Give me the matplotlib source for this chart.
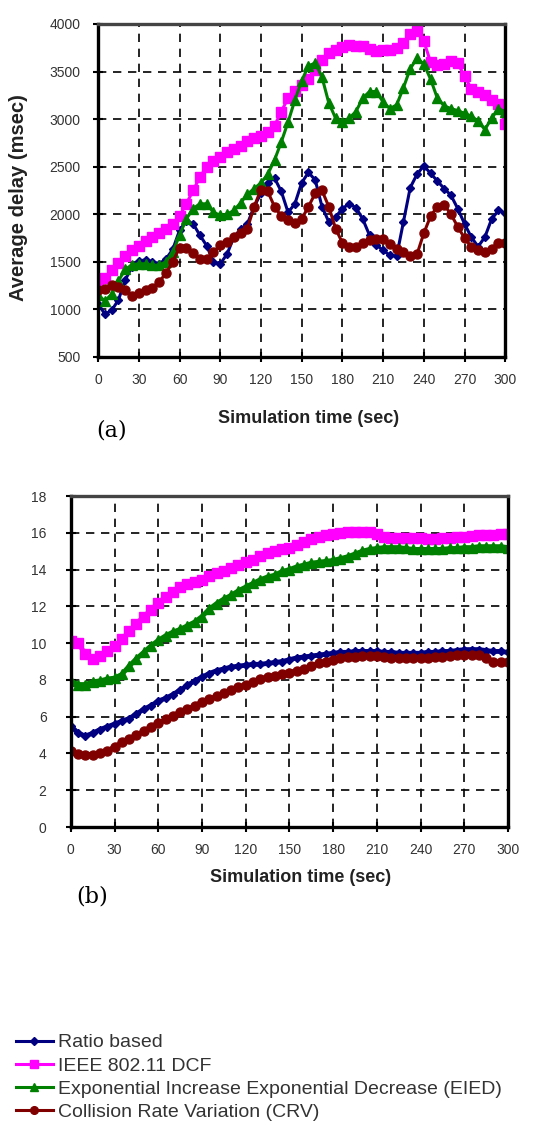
import matplotlib
matplotlib.use("Agg")
import matplotlib.pyplot as plt

plt.rcParams["font.family"] = ["Liberation Sans", "DejaVu Sans"]

# ----------------------------
# Data (5 s steps)
# ----------------------------

time = list(range(0, 301, 5))

# (a) average delay (msec)
delay_ratio = [1060, 950, 990, 1100, 1310, 1450, 1510, 1520, 1500, 1480, 1530, 1630, 1830, 1930, 1900, 1780,
               1670, 1500, 1480, 1580, 1760, 1840, 1900, 2080, 2220, 2330, 2380, 2240, 2020, 2110, 2330, 2440,
               2360, 2080, 1920, 1970, 2060, 2110, 2070, 1950, 1780, 1680, 1620, 1570, 1560, 1920, 2280, 2420,
               2510, 2430, 2350, 2270, 2200, 2060, 1900, 1760, 1660, 1760, 1950, 2040, 2010]
delay_dcf = [1250, 1330, 1410, 1490, 1560, 1620, 1670, 1720, 1760, 1800, 1850, 1900, 1980, 2110, 2250, 2390,
             2500, 2560, 2600, 2650, 2690, 2720, 2770, 2800, 2820, 2860, 2930, 3080, 3220, 3300, 3360, 3420,
             3520, 3620, 3690, 3730, 3760, 3780, 3770, 3770, 3740, 3720, 3730, 3730, 3750, 3800, 3890, 3930,
             3820, 3600, 3570, 3580, 3610, 3590, 3450, 3320, 3280, 3250, 3200, 3160, 2950]
delay_eied = [1150, 1090, 1160, 1300, 1420, 1470, 1480, 1480, 1465, 1465, 1500, 1600, 1780, 1950, 2060, 2110,
              2110, 2020, 1990, 2000, 2040, 2120, 2210, 2270, 2330, 2420, 2570, 2760, 2970, 3200, 3400, 3560,
              3590, 3440, 3170, 3010, 2970, 3010, 3080, 3220, 3290, 3290, 3180, 3110, 3150, 3330, 3530, 3640,
              3580, 3420, 3220, 3140, 3110, 3090, 3060, 3030, 2980, 2890, 3010, 3110, 3080]
delay_crv = [1200, 1215, 1260, 1240, 1200, 1140, 1170, 1200, 1230, 1290, 1380, 1500, 1650, 1650, 1590, 1530,
             1530, 1600, 1680, 1710, 1760, 1800, 1850, 2080, 2260, 2240, 2080, 1980, 1940, 1910, 1950, 2080,
             2220, 2250, 2080, 1850, 1700, 1660, 1660, 1700, 1730, 1740, 1740, 1690, 1640, 1600, 1560, 1580,
             1800, 1980, 2080, 2100, 2000, 1870, 1750, 1660, 1620, 1600, 1640, 1700, 1700]

# (b) second metric
b_ratio = [5.5, 5.1, 4.95, 5.1, 5.3, 5.45, 5.6, 5.75, 5.9, 6.15, 6.4, 6.6, 6.85, 7.0, 7.2, 7.45, 7.7, 7.95,
           8.15, 8.35, 8.5, 8.6, 8.7, 8.75, 8.8, 8.85, 8.85, 8.9, 8.95, 9.0, 9.1, 9.2, 9.25, 9.3, 9.35, 9.4,
           9.45, 9.5, 9.5, 9.55, 9.55, 9.55, 9.55, 9.5, 9.5, 9.45, 9.45, 9.45, 9.45, 9.5, 9.5, 9.55, 9.55,
           9.6, 9.65, 9.65, 9.65, 9.6, 9.55, 9.55, 9.5]
b_dcf = [10.1, 10.0, 9.4, 9.15, 9.3, 9.6, 9.85, 10.2, 10.65, 11.05, 11.45, 11.8, 12.2, 12.5, 12.8, 13.05,
         13.2, 13.35, 13.45, 13.65, 13.8, 13.95, 14.1, 14.25, 14.4, 14.55, 14.75, 14.9, 15.0, 15.1, 15.2,
         15.35, 15.5, 15.65, 15.8, 15.9, 15.95, 16.0, 16.05, 16.05, 16.05, 16.05, 15.95, 15.8, 15.7, 15.7,
         15.7, 15.7, 15.7, 15.65, 15.65, 15.7, 15.7, 15.75, 15.8, 15.85, 15.9, 15.9, 15.9, 15.95, 15.95]
b_eied = [7.95, 7.75, 7.75, 7.9, 7.95, 8.05, 8.1, 8.3, 8.75, 9.15, 9.5, 9.85, 10.15, 10.4, 10.6, 10.75,
          10.95, 11.15, 11.45, 11.85, 12.15, 12.4, 12.6, 12.85, 13.05, 13.25, 13.45, 13.6, 13.7, 13.9, 14.0,
          14.15, 14.25, 14.35, 14.4, 14.45, 14.5, 14.6, 14.7, 14.85, 15.0, 15.1, 15.15, 15.2, 15.2, 15.2,
          15.15, 15.1, 15.1, 15.1, 15.1, 15.1, 15.15, 15.15, 15.2, 15.2, 15.25, 15.25, 15.25, 15.25, 15.2]
b_crv = [4.15, 3.95, 3.9, 3.9, 4.0, 4.15, 4.35, 4.6, 4.8, 5.0, 5.2, 5.45, 5.65, 5.85, 6.05, 6.25, 6.4, 6.6,
         6.8, 6.95, 7.1, 7.3, 7.45, 7.6, 7.75, 7.9, 8.05, 8.15, 8.2, 8.3, 8.4, 8.5, 8.6, 8.75, 8.9, 9.0, 9.1,
         9.2, 9.25, 9.27, 9.3, 9.3, 9.3, 9.25, 9.2, 9.2, 9.2, 9.2, 9.2, 9.22, 9.25, 9.27, 9.3, 9.33, 9.36,
         9.36, 9.33, 9.2, 9.0, 8.95, 8.95]

labels = ["Ratio based", "IEEE 802.11 DCF",
          "Exponential Increase Exponential Decrease (EIED)", "Collision Rate Variation (CRV)"]
colors = ["#000080", "#ff00ff", "#008000", "#800000"]
markers = ["D", "s", "^", "o"]
msizes = [4.5, 6.5, 6.5, 6.5]

x_ticks = list(range(0, 301, 30))


def style_axes(ax, yticks, ypad):
    ax.set_xlim(0, 300)
    ax.set_xticks(x_ticks)
    ax.set_yticks(yticks)
    ax.set_ylim(yticks[0], yticks[-1])
    ax.grid(True, which="major", color="black", linestyle="--", dashes=(5, 4), linewidth=1.2)
    ax.tick_params(direction="inout", length=7, width=1.5, color="black",
                   labelsize=10, labelcolor="#333333")
    ax.tick_params(axis="x", pad=8)
    ax.tick_params(axis="y", pad=ypad)
    for side in ["left", "bottom", "right"]:
        ax.spines[side].set_linewidth(2.4)
        ax.spines[side].set_color("black")
    ax.spines["top"].set_linewidth(2.4)
    ax.spines["top"].set_color("#444444")


fig = plt.figure(figsize=(5.45, 11.42), dpi=100)

# ----------------------------
# (a)
# ----------------------------
ax1 = fig.add_axes([0.18, 0.6874, 0.747, 0.2916])
series_a = [delay_ratio, delay_dcf, delay_eied, delay_crv]
for vals, c, m, ms, lab in zip(series_a, colors, markers, msizes, labels):
    ax1.plot(time, vals, color=c, marker=m, markersize=ms, linewidth=2.2, label=lab)
style_axes(ax1, list(range(500, 4001, 500)), 9)
ax1.set_xlabel("Simulation time (sec)", fontsize=13, fontweight="bold", color="#222222")
ax1.xaxis.set_label_coords(0.516, -0.158)
ax1.set_ylabel("Average delay (msec)", fontsize=14.5, fontweight="bold", color="#222222")
ax1.yaxis.set_label_coords(-0.172, 0.48)
fig.text(112 / 545, 1 - 431 / 1142, "(a)", fontsize=16, family="DejaVu Serif", ha="center", va="center")

# ----------------------------
# (b)
# ----------------------------
ax2 = fig.add_axes([0.130, 0.2758, 0.802, 0.2898])
series_b = [b_ratio, b_dcf, b_eied, b_crv]
for vals, c, m, ms in zip(series_b, colors, markers, msizes):
    ax2.plot(time, vals, color=c, marker=m, markersize=ms, linewidth=3.5)
style_axes(ax2, list(range(0, 19, 2)), 14)
ax2.set_xlabel("Simulation time (sec)", fontsize=13, fontweight="bold", color="#222222")
ax2.xaxis.set_label_coords(0.526, -0.128)
fig.text(92 / 545, 1 - 897 / 1142, "(b)", fontsize=16, family="DejaVu Serif", ha="center", va="center")

# ----------------------------
# Legend
# ----------------------------
handles, labs = ax1.get_legend_handles_labels()
fig.legend(handles, labs, loc="upper left", bbox_to_anchor=(0.015, 1 - 1026 / 1142),
           frameon=False, fontsize=14, handlelength=1.9, handletextpad=0.25,
           labelspacing=0.29, labelcolor="#333333", markerscale=0.85, borderaxespad=0)

fig.savefig("out.png", dpi=100)
